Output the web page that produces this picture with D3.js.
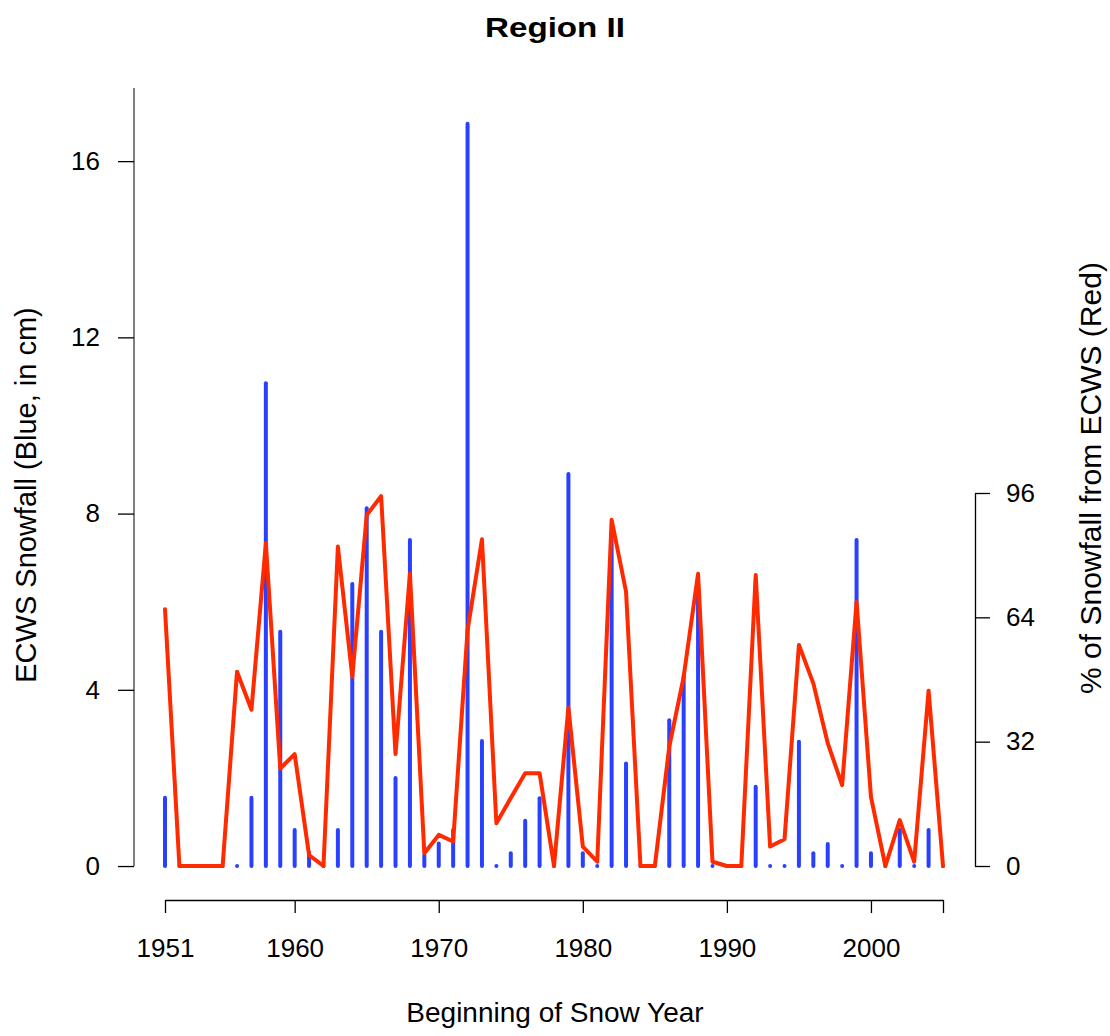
<!DOCTYPE html>
<html>
<head>
<meta charset="utf-8">
<script src="https://cdn.jsdelivr.net/npm/d3@7"></script>
<style>
  html, body { margin: 0; padding: 0; background: #fff; }
  svg { display: block; }
  text { font-family: "Liberation Sans", Arial, Helvetica, sans-serif; fill: #000; }
</style>
</head>
<body>
<svg id="chart" width="1110" height="1036"></svg>
<script>
// ---- data ----
const years = d3.range(1951, 2006);
const snowCm = [
  1.55, 0, 0, 0, 0, 0, 1.55, 10.96, 5.32, 0.82,
  0.3, 0, 0.82, 6.40, 8.12, 5.32, 2.0, 7.40, 0.25, 0.51,
  0.82, 16.85, 2.84, 0, 0.29, 1.03, 1.54, 0, 8.90, 0.29,
  0, 7.5, 2.33, 0, 0, 3.31, 4.31, 6.1, 0, 0,
  0, 1.80, 0, 0, 2.82, 0.29, 0.50, 0, 7.40, 0.29,
  0, 0.82, 0, 0.82, 0
];
const pctEcws = [
  66.1, 0, 0, 0, 0, 50.0, 40.2, 83.1, 25.1, 28.8,
  2.8, 0, 82.2, 48.7, 90.3, 95.2, 28.8, 75.3, 3.3, 8.0,
  6.3, 60.7, 84.1, 11.0, 17.5, 23.9, 23.9, 0, 40.8, 5.0,
  1.1, 89.1, 70.6, 0, 0, 30.7, 48.7, 75.2, 1.1, 0,
  0, 74.9, 5.0, 6.9, 56.9, 47.0, 31.6, 20.8, 68.0, 17.8,
  0, 11.8, 1.1, 45.1, 0
];
const xTicks = [1951, 1960, 1970, 1980, 1990, 2000, 2005];
const xTickLabels = ["1951", "1960", "1970", "1980", "1990", "2000", ""];
const leftTicks = [0, 4, 8, 12, 16];
const rightTicks = [0, 32, 64, 96];
const leftDomain = [-0.68, 17.66];
const rightDomain = [0, 96];

const titleText = "Region II";
const xLabel = "Beginning of Snow Year";
const yLabelLeft = "ECWS Snowfall (Blue, in cm)";
const yLabelRight = "% of Snowfall from ECWS (Red)";

// ---- layout ----
const svg = d3.select("#chart");
const blue = "#2a40ff";
const red = "#ff2a00";

const x = d3.scaleLinear().domain([1951, 2005]).range([165, 943]);
const yL = d3.scaleLinear().domain(leftDomain).range([896, 88]);
const yR = d3.scaleLinear().domain(rightDomain).range([866, 493]);

svg.append("rect").attr("width", 1110).attr("height", 1036).attr("fill", "#fff");

// bars (type = "h")
svg.append("g").selectAll("path")
  .data(years.map((yr, i) => ({ yr, v: snowCm[i] })))
  .join("path")
  .attr("d", d => `M${x(d.yr)},${yL(0)}L${x(d.yr)},${yL(d.v)}`)
  .attr("stroke", blue)
  .attr("stroke-width", 4)
  .attr("stroke-linecap", "round")
  .attr("fill", "none");

// red line
const line = d3.line()
  .x((d, i) => x(years[i]))
  .y(d => yR(d));
svg.append("path")
  .datum(pctEcws)
  .attr("d", line)
  .attr("fill", "none")
  .attr("stroke", red)
  .attr("stroke-width", 4)
  .attr("stroke-linejoin", "round")
  .attr("stroke-linecap", "round");

// x axis
const gx = svg.append("g")
  .attr("transform", "translate(0,900)")
  .call(d3.axisBottom(x)
    .tickValues(xTicks)
    .tickFormat((d, i) => xTickLabels[i])
    .tickSize(13)
    .tickSizeOuter(0)
    .tickPadding(26));
gx.selectAll("text").style("font-size", "26px");

// left axis
const gl = svg.append("g")
  .attr("transform", "translate(134,0)")
  .call(d3.axisLeft(yL)
    .tickValues(leftTicks)
    .tickFormat(d3.format("d"))
    .tickSize(16)
    .tickSizeOuter(0)
    .tickPadding(18));
gl.select(".domain").remove();
gl.append("line")
  .attr("x1", 0).attr("x2", 0)
  .attr("y1", yL(0)).attr("y2", yL(leftDomain[1]))
  .attr("stroke", "#000");
gl.selectAll("text").style("font-size", "26px");

// right axis
const gr = svg.append("g")
  .attr("transform", "translate(975,0)")
  .call(d3.axisRight(yR)
    .tickValues(rightTicks)
    .tickFormat(d3.format("d"))
    .tickSize(15)
    .tickSizeOuter(0)
    .tickPadding(16));
gr.selectAll("text").style("font-size", "26px");

svg.selectAll(".domain, .tick line").attr("stroke", "#000").attr("stroke-width", 1.3);

// title
svg.append("text")
  .attr("x", 555).attr("y", 37)
  .attr("text-anchor", "middle")
  .attr("textLength", 140)
  .attr("lengthAdjust", "spacingAndGlyphs")
  .style("font-size", "28px")
  .style("font-weight", "bold")
  .text(titleText);

// x label
svg.append("text")
  .attr("x", 555).attr("y", 1022)
  .attr("text-anchor", "middle")
  .style("font-size", "28px")
  .text(xLabel);

// left y label
svg.append("text")
  .attr("transform", "translate(36,495) rotate(-90)")
  .attr("text-anchor", "middle")
  .style("font-size", "29px")
  .text(yLabelLeft);

// right y label
svg.append("text")
  .attr("transform", "translate(1101,478) rotate(-90)")
  .attr("text-anchor", "middle")
  .style("font-size", "30px")
  .text(yLabelRight);
</script>
</body>
</html>
